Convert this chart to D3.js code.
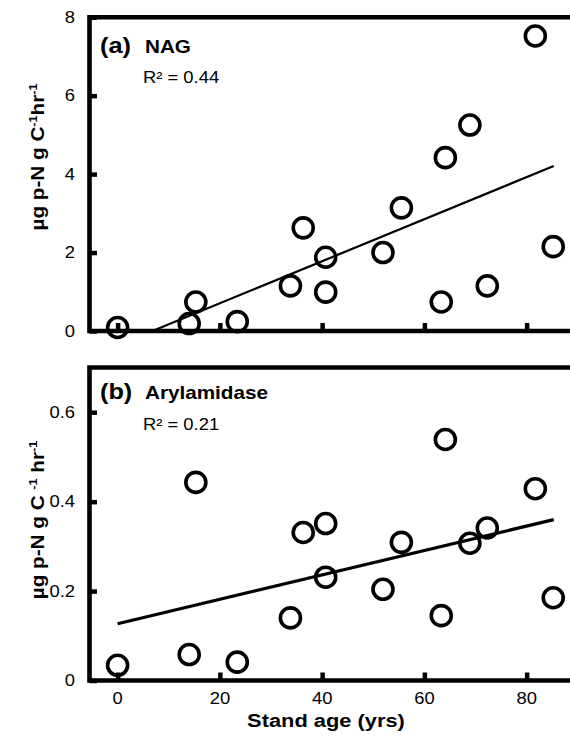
<!DOCTYPE html>
<html>
<head>
<meta charset="utf-8">
<style>
  *{margin:0;padding:0;box-sizing:border-box}
  body{background:#fff;width:570px;height:740px;overflow:hidden}
  svg{display:block}
  text{font-family:"Liberation Sans",Arial,sans-serif;fill:#000}
</style>
</head>
<body>
<svg id="g"></svg>
<script src="https://cdn.jsdelivr.net/npm/d3@7/dist/d3.min.js"></script>
<script>
// stand age of each site (yrs), shared by both panels
const ages = [0, 14, 15.3, 23.4, 33.8, 36.3, 40.7, 40.7, 51.9, 55.5, 63.3, 64.1, 68.9, 72.3, 81.7, 85.2];
// (a) NAG, µg p-N g C-1 hr-1
const nagValues = [0.09, 0.19, 0.74, 0.24, 1.15, 2.63, 1.88, 0.99, 2.00, 3.14, 0.74, 4.42, 5.25, 1.15, 7.52, 2.15];
// (b) Arylamidase, µg p-N g C-1 hr-1
const aryValues = [0.034, 0.058, 0.443, 0.041, 0.140, 0.331, 0.351, 0.231, 0.204, 0.309, 0.145, 0.539, 0.307, 0.341, 0.429, 0.185];
// linear fits: [intercept, slope]
const nagFit = [-0.365, 0.0536];
const aryFit = [0.127, 0.00273];
const fitRange = [0, 85.3];
const xTicks = [0, 20, 40, 60, 80];
const nagTicks = [0, 2, 4, 6, 8];
const aryTicks = [0, 0.2, 0.4, 0.6];

const W = 570, H = 740;
const S = 1.15; // glyphs in the original are a bit wider than Arial

const svg = d3.select('#g').attr('width', W).attr('height', H);

const x = d3.scaleLinear().domain([-5.5, 92]).range([89.5, 588]);

function label(g, txt, px, py, size, weight, anchor, rot) {
  return g.append('text')
    .attr('transform', `translate(${px},${py}) rotate(${rot || 0}) scale(${S},1)`)
    .attr('font-size', size).attr('font-weight', weight || 'normal')
    .attr('text-anchor', anchor || 'start')
    .text(txt);
}

function yTitle(g, cy, spaced) {
  const t = g.append('text')
    .attr('transform', `translate(44,${cy}) rotate(-90) scale(${S},1)`)
    .attr('font-size', 18).attr('font-weight', 'bold')
    .attr('text-anchor', 'middle');
  t.append('tspan').text(spaced ? 'µg p-N g C ' : 'µg p-N g C');
  t.append('tspan').attr('font-size', 11).attr('dy', -7).text('-1');
  t.append('tspan').attr('dy', 7).text(spaced ? ' hr' : 'hr');
  t.append('tspan').attr('font-size', 11).attr('dy', -7).text('-1');
}

const panels = [
  {top: 17.2, bottom: 331, domain: [0, 8], ticks: nagTicks, fmt: d3.format('d'),
   values: nagValues, fit: nagFit, fitW: 2.2, tag: '(a)', name: 'NAG', r2: 'R² = 0.44',
   tagY: 53, r2Y: 83, titleY: 157, spaced: false, xLabels: false},
  {top: 367.5, bottom: 680.5, domain: [0, 0.7], ticks: aryTicks, fmt: d => d === 0 ? '0' : d3.format('.1f')(d),
   values: aryValues, fit: aryFit, fitW: 3.2, tag: '(b)', name: 'Arylamidase', r2: 'R² = 0.21',
   tagY: 399, r2Y: 430, titleY: 520, spaced: true, xLabels: true}
];

panels.forEach(p => {
  const y = d3.scaleLinear().domain(p.domain).range([p.bottom, p.top]);
  const g = svg.append('g');

  // tick marks, pointing into the plot
  g.append('g').attr('transform', `translate(${x.range()[0]},0)`)
    .call(d3.axisLeft(y).tickValues(p.ticks).tickSizeInner(-7.5).tickSizeOuter(0).tickFormat(''))
    .call(a => a.select('.domain').remove())
    .call(a => a.selectAll('line').attr('stroke', '#000').attr('stroke-width', 4.5));
  g.append('g').attr('transform', `translate(0,${p.bottom})`)
    .call(d3.axisBottom(x).tickValues(xTicks).tickSizeInner(-8).tickSizeOuter(0).tickFormat(''))
    .call(a => a.select('.domain').remove())
    .call(a => a.selectAll('line').attr('stroke', '#000').attr('stroke-width', 4.5));

  // frame: left, bottom, top
  g.append('path')
    .attr('d', `M${W},${p.top}H${x.range()[0]}V${p.bottom}H${W}`)
    .attr('fill', 'none').attr('stroke', '#000').attr('stroke-width', 4.6);

  // y tick labels
  p.ticks.forEach(t => {
    label(g, p.fmt(t), 75, y(t), 16, 'normal', 'end').attr('dy', '0.36em');
  });
  if (p.xLabels) {
    xTicks.forEach(t => label(g, String(t), x(t), 704, 16, 'normal', 'middle'));
  }

  // fitted line
  const [b0, b1] = p.fit;
  const x0 = Math.max(fitRange[0], -b0 / b1);
  g.append('path')
    .datum([x0, fitRange[1]])
    .attr('d', d3.line().x(d => x(d)).y(d => y(b0 + b1 * d)))
    .attr('fill', 'none').attr('stroke', '#000').attr('stroke-width', p.fitW);

  // points
  g.selectAll('circle').data(ages.map((a, i) => [a, p.values[i]]))
    .enter().append('circle')
    .attr('cx', d => x(d[0])).attr('cy', d => y(d[1])).attr('r', 10)
    .attr('fill', 'none').attr('stroke', '#000').attr('stroke-width', 3.6);

  // panel labels
  label(g, p.tag, 100, p.tagY, 22, 'bold');
  label(g, p.name, 145, p.tagY, 18, 'bold');
  label(g, p.r2, 143, p.r2Y, 16);
  yTitle(g, p.titleY, p.spaced);
});

label(svg, 'Stand age (yrs)', 326, 727, 19, 'bold', 'middle');
</script>
</body>
</html>
